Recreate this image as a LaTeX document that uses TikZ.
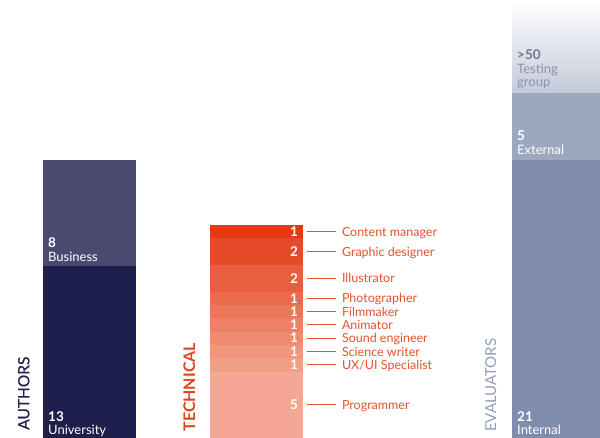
\documentclass[tikz,border=0pt]{standalone}
\usepackage{fontspec}
\setmainfont{Lato}
\usetikzlibrary{positioning}
\definecolor{busicol}{HTML}{4A4A70}
\definecolor{univcol}{HTML}{1F1F4C}
\definecolor{authcol}{HTML}{23234C}
\definecolor{intcol}{HTML}{7F8CAB}
\definecolor{extcol}{HTML}{9CA7C0}
\definecolor{testcol}{HTML}{C4CAD9}
\definecolor{evalcol}{HTML}{929CB6}
\definecolor{testtext}{HTML}{8A94AE}
\definecolor{testnum}{HTML}{6F7A98}
\definecolor{techtext}{HTML}{E4532F}
\definecolor{techhead}{HTML}{E4441C}
\definecolor{tc1}{HTML}{E33A12}
\definecolor{tc2}{HTML}{E64A28}
\definecolor{tc3}{HTML}{E85E3E}
\definecolor{tc4}{HTML}{EA6B4E}
\definecolor{tc5}{HTML}{EC7658}
\definecolor{tc6}{HTML}{EE8063}
\definecolor{tc7}{HTML}{EF8B6F}
\definecolor{tc8}{HTML}{F1957C}
\definecolor{tc9}{HTML}{F29E87}
\definecolor{tc10}{HTML}{F4A792}

\begin{document}
\begin{tikzpicture}[x=1pt,y=-1pt,
    bar/.style={inner sep=0pt, outer sep=0pt, minimum width=93pt, anchor=north west},
    techseg/.style={inner xsep=5pt, inner ysep=0pt, outer sep=0pt, text width=83pt, align=right,
      text height=9.5pt, text depth=0pt, text=white, font=\fontsize{13.5}{14}\selectfont\bfseries},
    techlab/.style={inner xsep=6pt, inner ysep=0pt, outer sep=0pt, text height=9pt, text depth=0pt,
      text=techtext, font=\fontsize{12.5}{14}\selectfont},
    techline/.style={draw=techtext, line width=0.8pt},
    barnum/.style={inner sep=0pt, anchor=base west, font=\fontsize{13.5}{15}\selectfont\bfseries},
    barname/.style={inner sep=0pt, anchor=base west, font=\fontsize{13}{15}\selectfont},
    side/.style={rotate=90, inner sep=0pt, anchor=base west}]
  \useasboundingbox (0,0) rectangle (600,438);

  % authors
  \node[bar, fill=busicol, minimum height=106pt] (busi) at (43,160) {};
  \node[bar, fill=univcol, minimum height=172pt, below=0pt of busi] (univ) {};
  \node[barname, text=white] (busin) at ([xshift=5pt,yshift=4.5pt]busi.south west) {Business};
  \node[barnum, text=white] at ([yshift=13.5pt]busin.base west) {8};
  \node[barname, text=white] (univn) at ([xshift=5pt,yshift=3.5pt]univ.south west) {University};
  \node[barnum, text=white] at ([yshift=13.5pt]univn.base west) {13};
  \node[side, text=authcol, font=\fontsize{15.5}{18}\selectfont\addfontfeature{FakeBold=0.6}] (authl) at (29.3,430) {AUTHORS};

  % technical
  \coordinate (tk0) at (256.5,225);
  \foreach \n/\lab [count=\k] in {1/Content manager, 2/Graphic designer, 2/Illustrator,
      1/Photographer, 1/Filmmaker, 1/Animator, 1/Sound engineer, 1/Science writer,
      1/{UX/UI Specialist}, 5/Programmer}{
    \pgfmathtruncatemacro\p{\k-1}
    \pgfmathsetmacro\h{\n*13.32}
    \node[techseg, fill=tc\k, minimum height=\h pt, below=0pt of tk\p] (tk\k) {\n};
    \node[techlab, right=33pt of tk\k.east] (tl\k) {\lab};
    \draw[techline] ([xshift=4pt]tk\k.east) -- (tl\k.west);
  }
  \node[side, text=techhead, font=\fontsize{16}{18}\selectfont\bfseries] (techl) at (195,431.7) {TECHNICAL};

  % evaluators
  \node[bar, fill=intcol, minimum height=278pt] (intl) at (512,160) {};
  \node[bar, fill=extcol, minimum height=67pt, above=0pt of intl] (extl) {};
  \node[bar, top color=white, bottom color=testcol, minimum height=93pt, above=0pt of extl] (test) {};
  \node[barname, text=white] (intn) at ([xshift=5pt,yshift=3.5pt]intl.south west) {Internal};
  \node[barnum, text=white] at ([yshift=13.5pt]intn.base west) {21};
  \node[barname, text=white] (extn) at ([xshift=5pt,yshift=5pt]extl.south west) {External};
  \node[barnum, text=white] at ([yshift=14pt]extn.base west) {5};
  \node[barname, text=testtext] (testg) at ([xshift=5pt,yshift=6pt]test.south west) {group};
  \node[barname, text=testtext] (testt) at ([yshift=13.5pt]testg.base west) {Testing};
  \node[barnum, text=testnum] at ([yshift=13.5pt]testt.base west) {>50};
  \node[side, text=evalcol, font=\fontsize{15}{18}\selectfont] (evall) at (496,432) {EVALUATORS};
\end{tikzpicture}
\end{document}
